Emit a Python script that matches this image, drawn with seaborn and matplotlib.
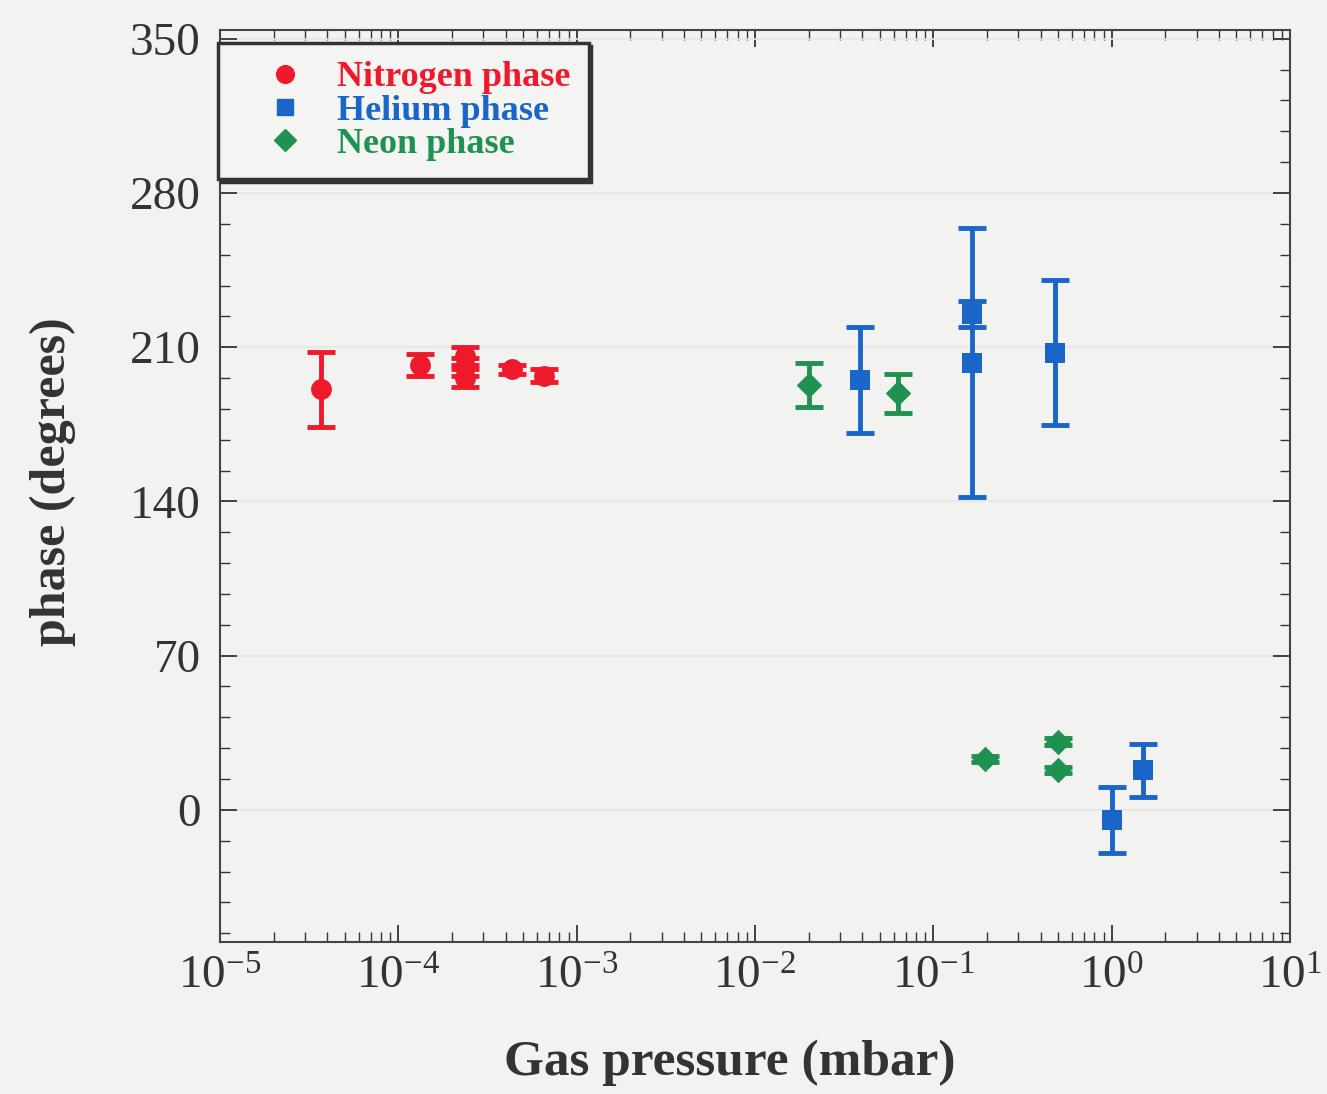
import matplotlib
matplotlib.use("Agg")
import matplotlib.pyplot as plt
import matplotlib.ticker as mticker
from matplotlib.lines import Line2D
import seaborn as sns
import pandas as pd
import numpy as np

# ---- data ----
n2_pressure = [3.7e-5, 1.32e-4, 2.37e-4, 2.37e-4, 2.37e-4, 4.35e-4, 6.6e-4]
n2_phase = [191, 202, 206, 201, 196, 200, 197]
n2_err = [17, 5, 4, 4, 4, 2, 3]

he_pressure = [0.039, 0.165, 0.165, 0.48, 1.0, 1.5]
he_phase = [195, 225, 203, 207.5, -4.5, 18]
he_err = [24, 6, 61, 33, 15, 12]

ne_pressure = [0.020, 0.063, 0.195, 0.5, 0.5]
ne_phase = [193, 189, 23, 31, 18]
ne_err = [10, 9, 1.5, 1.5, 1.5]

labels = ["Nitrogen phase", "Helium phase", "Neon phase"]
colors = ["#ee1a2c", "#1a66c8", "#1f9150"]
markers = ["o", "s", "D"]
msizes = [15, 14, 13]

sns.set_theme(style="ticks")
plt.rcParams["font.family"] = ["Liberation Serif", "DejaVu Serif"]
plt.rcParams["mathtext.fontset"] = "custom"
plt.rcParams["mathtext.rm"] = "Liberation Serif"
plt.rcParams["mathtext.it"] = "Liberation Serif:italic"
plt.rcParams["mathtext.bf"] = "Liberation Serif:bold"

bg = "#f2f2f0"
fig = plt.figure(figsize=(13.27, 10.94), dpi=100, facecolor=bg)
ax = fig.add_axes([220/1327, 1-942/1094, (1290-220)/1327, (942-30)/1094])
ax.set_facecolor(bg)

series = [
    (n2_pressure, n2_phase, n2_err),
    (he_pressure, he_phase, he_err),
    (ne_pressure, ne_phase, ne_err),
]
for (p, ph, er), lab, c, m, ms in zip(series, labels, colors, markers, msizes):
    ax.errorbar(p, ph, yerr=er, fmt="none", ecolor=c, elinewidth=3.5,
                capsize=10, capthick=3.5, zorder=2)
    df = pd.DataFrame({"pressure": p, "phase": ph})
    sns.scatterplot(data=df, x="pressure", y="phase", ax=ax, color=c,
                    marker=m, s=ms**2, edgecolor=c, linewidth=0, zorder=3,
                    legend=False)

ax.set_xscale("log")
ax.set_xlim(1e-5, 1e1)
ax.set_ylim(-60, 354)
ax.set_yticks([0, 70, 140, 210, 280, 350])
ax.yaxis.set_minor_locator(mticker.MultipleLocator(14))
ax.xaxis.set_major_locator(mticker.LogLocator(base=10, numticks=10))
ax.xaxis.set_minor_locator(mticker.LogLocator(base=10, subs=np.arange(2, 10), numticks=20))
ax.xaxis.set_minor_formatter(mticker.NullFormatter())
ax.xaxis.set_major_formatter(mticker.FuncFormatter(
    lambda v, pos: r"$\mathregular{10^{%d}}$" % int(round(np.log10(v)))))

ax.tick_params(which="both", direction="in", top=True, right=True,
               colors="#333333", labelcolor="#333333")
ax.tick_params(which="major", length=12, width=1.3, labelsize=34)
ax.tick_params(axis="x", which="major", pad=10)
ax.tick_params(axis="y", which="major", pad=14)
ax.tick_params(which="minor", length=7, width=1.0)
for s in ax.spines.values():
    s.set_color("#444444")
    s.set_linewidth(1.5)

ax.grid(True, which="major", axis="y", color="#e5e5e5", linewidth=1.2)
ax.set_axisbelow(True)

ax.set_xlabel("Gas pressure (mbar)", fontsize=37, fontweight="bold",
              color="#333333")
ax.xaxis.set_label_coords((730-220)/1070, -(1040-942)/912)
ax.set_ylabel("phase (degrees)", fontsize=36, fontweight="bold",
              color="#333333")
ax.yaxis.set_label_coords(-(220-76)/1070, (942-482)/912)

handles = [Line2D([], [], linestyle="none", marker=m, color=c, markersize=ms*0.85)
           for m, c, ms in zip(markers, colors, msizes)]
leg = ax.legend(handles, labels, loc="upper left",
                bbox_to_anchor=(218/1327, 1-43/1094), bbox_transform=fig.transFigure,
                frameon=True, fancybox=False, shadow={"color": "#333333", "alpha": 1},
                edgecolor="#333333", facecolor="#f4f4f2", framealpha=1,
                prop={"size": 26, "weight": "bold"}, labelspacing=0.0,
                handletextpad=0.1, borderpad=0.5, borderaxespad=0,
                handlelength=2.7)
leg.get_frame().set_linewidth(2.5)
for t, c in zip(leg.get_texts(), colors):
    t.set_color(c)

fig.savefig("out.png", dpi=100, facecolor=bg)
